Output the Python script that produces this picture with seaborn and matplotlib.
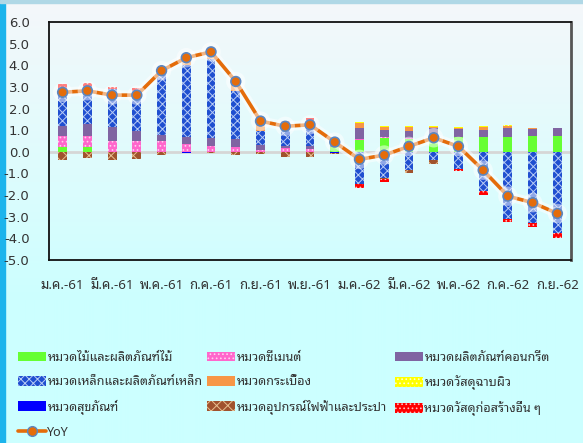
import numpy as np
import seaborn as sns
import matplotlib.pyplot as plt
import matplotlib.patheffects as pe
from matplotlib import font_manager
from matplotlib.ft2font import FT2Font
from matplotlib.lines import Line2D
from matplotlib.patches import Patch, Rectangle

# เดือน (แกน x)
months = ["ม.ค.-61", "ก.พ.-61", "มี.ค.-61", "เม.ย.-61", "พ.ค.-61", "มิ.ย.-61", "ก.ค.-61",
          "ส.ค.-61", "ก.ย.-61", "ต.ค.-61", "พ.ย.-61", "ธ.ค.-61", "ม.ค.-62", "ก.พ.-62",
          "มี.ค.-62", "เม.ย.-62", "พ.ค.-62", "มิ.ย.-62", "ก.ค.-62", "ส.ค.-62", "ก.ย.-62"]

# ค่าของแต่ละหมวด (ส่วนร่วม)
wood = [0.23, 0.23, 0, 0, 0, 0, 0, 0, 0, 0, 0, 0.2, 0.54, 0.63, 0.6, 0.7, 0.67, 0.67, 0.7, 0.74, 0.73]
cement = [0.5, 0.48, 0.48, 0.48, 0.5, 0.36, 0.28, 0.2, 0.08, 0.17, 0.15, 0, 0.03, 0.06, 0.06, 0, 0, 0, 0, 0, 0]
concrete = [0.46, 0.57, 0.65, 0.46, 0.3, 0.31, 0.34, 0.39, 0.23, 0.11, 0.12, 0.05, 0.51, 0.31, 0.3, 0.4, 0.39, 0.34, 0.39, 0.31, 0.37]
steel = [1.76, 1.74, 1.78, 1.86, 2.8, 3.33, 3.65, 2.2, 0.63, 0.7, 0.85, 0, -1.47, -1.19, -0.85, -0.4, -0.8, -1.8, -3.1, -3.3, -3.73]
tiles = [0, 0, 0, 0, 0.25, 0.35, 0.4, 0.6, 0.55, 0.4, 0.35, 0.3, 0.23, 0.15, 0.2, 0.06, 0.05, 0.12, 0.1, 0.03, 0.02]
surface = [0, 0, 0, 0, 0, 0, 0, 0, 0, 0, 0, 0, 0.06, 0.05, 0.03, 0.05, 0.05, 0.05, 0.05, 0, 0]
sanitary = [0, 0, 0, 0, 0, -0.05, 0, 0, 0, 0, 0, -0.07, 0, 0, 0, 0, 0, 0, 0, 0, 0]
electrical = [-0.4, -0.3, -0.4, -0.35, -0.15, 0, -0.05, -0.15, -0.1, -0.25, -0.25, -0.05, 0, -0.08, -0.15, -0.18, 0, 0, 0, 0, 0]
other = [0.2, 0.15, 0.1, 0.15, 0, 0, 0, 0, 0, 0.05, 0.08, 0, -0.19, -0.12, 0, 0, -0.1, -0.19, -0.15, -0.19, -0.26]
yoy = [2.75, 2.82, 2.62, 2.62, 3.75, 4.35, 4.62, 3.25, 1.42, 1.18, 1.25, 0.45, -0.35, -0.15,
       0.25, 0.65, 0.25, -0.85, -2.05, -2.35, -2.85]

# ชื่อหมวด
labels = ["หมวดไม้และผลิตภัณฑ์ไม้", "หมวดซีเมนต์", "หมวดผลิตภัณฑ์คอนกรีต",
          "หมวดเหล็กและผลิตภัณฑ์เหล็ก", "หมวดกระเบื้อง", "หมวดวัสดุฉาบผิว",
          "หมวดสุขภัณฑ์", "หมวดอุปกรณ์ไฟฟ้าและประปา", "หมวดวัสดุก่อสร้างอื่น ๆ"]

sns.set_style("white")
plt.rcParams['hatch.linewidth'] = 0.7


# หาฟอนต์ที่มีอักษรไทย
def has_thai(path):
    try:
        return FT2Font(path).get_char_index(ord("ม")) != 0
    except Exception:
        return False


thai_fonts = sorted({f.name for f in font_manager.fontManager.ttflist if has_thai(f.fname)})
preferred = ["Noto Sans Thai Looped", "Sarabun", "IBM Plex Sans Thai Looped", "Noto Sans Thai"]
thai = [f for f in preferred if f in thai_fonts] or thai_fonts[:1]
plt.rcParams['font.family'] = thai[:1] + ['DejaVu Sans']

# สี / ลวดลาย
styles = [
    ("#66FF33", None, "#66FF33"),
    ("#FF66CC", "....", "#FFD0F0"),
    ("#8064A2", None, "#8064A2"),
    ("#1F4FD0", "xxxx", "#B8CCF5"),
    ("#F79646", None, "#F79646"),
    ("#FFFF00", "....", "#FFFFD0"),
    ("#0000FF", None, "#0000FF"),
    ("#A0522D", "xxx", "#E8C090"),
    ("#FF0000", "....", "#FFC0C0"),
]
data = [wood, cement, concrete, steel, tiles, surface, sanitary, electrical, other]

fig, ax = plt.subplots(figsize=(5.83, 4.43), dpi=100)
fig.subplots_adjust(left=49 / 583, right=571 / 583, top=1 - 22 / 443, bottom=1 - 260 / 443)
ax.set_facecolor("none")

# พื้นหลังไล่สี
bg = fig.add_axes([0, 0, 1, 1], zorder=-10)
yy = np.linspace(0, 1, 443)
t = np.clip(yy / (300 / 443), 0, 1)[:, None]
top_c = np.array([0.96, 0.97, 0.98])
bot_c = np.array([0.80, 1.0, 1.0])
grad = (1 - t) * top_c + t * bot_c
bg.imshow(grad[:, None, :].repeat(2, axis=1), aspect="auto", extent=[0, 1, 0, 1], origin="upper")
bg.axis("off")
fig.patches.append(Rectangle((0, 0), 5 / 583, 1, transform=fig.transFigure, color="#1CB4EC", zorder=-5))
fig.patches.append(Rectangle((0, 1 - 3 / 443), 1, 3 / 443, transform=fig.transFigure, color="#B0D8E6", zorder=-5))

ax.axhline(0, color="#D6D6D6", lw=2, zorder=0)

# แท่งซ้อน (บวกซ้อนขึ้น ลบซ้อนลง)
pos_base = np.zeros(len(months))
neg_base = np.zeros(len(months))
for vals, (fc, hatch, hc), name in zip(data, styles, labels):
    v = np.array(vals, dtype=float)
    bottom = np.where(v >= 0, pos_base, neg_base)
    sns.barplot(x=months, y=v, bottom=bottom, color=fc, hatch=hatch, edgecolor=hc, linewidth=0,
                width=0.36, saturation=1, errorbar=None, ax=ax, zorder=2)
    pos_base += np.clip(v, 0, None)
    neg_base += np.clip(v, None, 0)

# เส้น YoY
sns.lineplot(x=np.arange(len(months)), y=yoy, ax=ax, color="#E46C0A", lw=2.6, marker="o",
             markersize=7, markerfacecolor="#E46C0A", markeredgecolor="#5B86C0", markeredgewidth=1.2,
             zorder=5, path_effects=[pe.Stroke(linewidth=7, foreground="white", alpha=0.5), pe.Normal()])

ax.set_xlim(-0.55, len(months) - 0.45)
ax.set_ylim(-5, 6)
ax.set_yticks(np.arange(-5, 7, 1))
ax.set_yticklabels([f"{v:.1f}" for v in np.arange(-5, 7, 1)], family="DejaVu Sans")
ax.set_xticks(range(0, len(months), 2))
ax.set_xticklabels(months[::2])
ax.tick_params(axis="y", length=0, pad=14, labelsize=9.5, labelcolor="#333333")
ax.tick_params(axis="x", length=0, pad=13.5, labelsize=9.5, labelcolor="#333333")
ax.set_xlabel("")
ax.set_ylabel("")
for side in ["left", "top", "bottom"]:
    ax.spines[side].set_color("#111111")
    ax.spines[side].set_linewidth(1.3)
ax.spines["right"].set_color("#555555")
ax.spines["right"].set_linewidth(2)

# คำอธิบายสัญลักษณ์ (3 คอลัมน์)
handles = [Patch(facecolor=fc, hatch=h, edgecolor=hc, linewidth=0) for fc, h, hc in styles]
yoy_handle = Line2D([], [], color="#E46C0A", lw=2.6, marker="o", markersize=7,
                    markerfacecolor="#E46C0A", markeredgecolor="#5B86C0")
cols = [([handles[0], handles[3], handles[6], yoy_handle], [labels[0], labels[3], labels[6], "YoY"]),
        ([handles[1], handles[4], handles[7]], [labels[1], labels[4], labels[7]]),
        ([handles[2], handles[5], handles[8]], [labels[2], labels[5], labels[8]])]
for x0, (h, l) in zip([18, 207, 395], cols):
    fig.legend(h, l, loc="upper left", bbox_to_anchor=(x0 / 583, 1 - 351 / 443), frameon=False,
               fontsize=9, handlelength=2.2, handleheight=0.8, handletextpad=0.15,
               labelspacing=0.9, borderpad=0, borderaxespad=0, labelcolor="#333333")

fig.savefig("out.png", dpi=100)
